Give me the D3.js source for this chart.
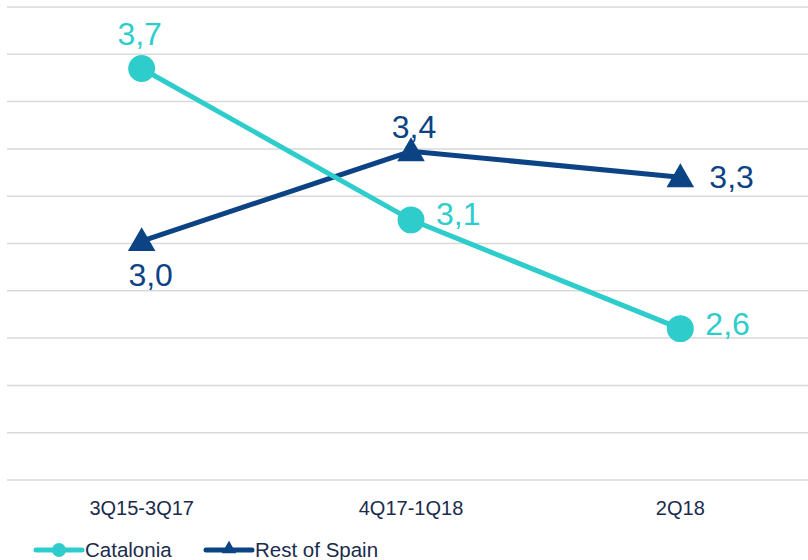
<!DOCTYPE html>
<html>
<head>
<meta charset="utf-8">
<script src="https://cdn.jsdelivr.net/npm/d3@7"></script>
<style>
  html, body { margin: 0; padding: 0; background: #fff; }
  svg { display: block; font-family: "Liberation Sans", Arial, sans-serif; }
</style>
</head>
<body>
<svg id="chart" width="808" height="560"></svg>
<script>
// Periods on the x axis
const periods = ["3Q15-3Q17", "4Q17-1Q18", "2Q18"];
// Series values
const catalonia = [3.74, 3.10, 2.64];
const restOfSpain = [3.01, 3.39, 3.28];
// Horizontal gridline values
const gridValues = [2.0, 2.2, 2.4, 2.6, 2.8, 3.0, 3.2, 3.4, 3.6, 3.8, 4.0];

const TEAL = "#2ECDCB";
const NAVY = "#0B4384";
const TEXT = "#1A2B4C";

const svg = d3.select("#chart");

const x = d3.scaleBand().domain(periods).range([7, 815]);
const y = d3.scaleLinear().domain([2.0, 4.0]).range([480, 7]);
const cx = d => x(d) + x.bandwidth() / 2;
const fmt = v => d3.format(".1f")(v).replace(".", ",");

// Gridlines
svg.append("g")
  .selectAll("line")
  .data(gridValues)
  .join("line")
  .attr("x1", 7).attr("x2", 808)
  .attr("y1", d => y(d)).attr("y2", d => y(d))
  .attr("stroke", "#D9D9D9")
  .attr("stroke-width", 1.5);

// Category axis labels
const xAxis = d3.axisBottom(x).tickSize(0).tickPadding(0);
const gx = svg.append("g").attr("transform", `translate(0,${y(2.0)})`).call(xAxis);
gx.select(".domain").remove();
gx.selectAll("text")
  .attr("dy", null)
  .attr("y", 35)
  .attr("fill", TEXT)
  .attr("font-size", 20)
  .attr("font-family", "Liberation Sans, Arial, sans-serif");

// Label placement per point: side, horizontal and vertical offsets
const series = [
  { name: "Catalonia", values: catalonia, color: TEAL, symbol: d3.symbolCircle, size: 570,
    labels: [
      { side: "middle", dx: -2, dy: -23 },
      { side: "start", dx: 25, dy: 5 },
      { side: "start", dx: 25, dy: 6 }
    ] },
  { name: "Rest of Spain", values: restOfSpain, color: NAVY, symbol: d3.symbolTriangle, size: 330,
    labels: [
      { side: "middle", dx: 9, dy: 45 },
      { side: "middle", dx: 3, dy: -13 },
      { side: "start", dx: 29, dy: 11 }
    ] }
];

const line = d3.line().x((d, i) => cx(periods[i])).y(d => y(d));

// Lines (Rest of Spain drawn first so Catalonia sits on top)
[series[1], series[0]].forEach(s => {
  svg.append("path")
    .datum(s.values)
    .attr("d", line)
    .attr("fill", "none")
    .attr("stroke", s.color)
    .attr("stroke-width", 5);
});

// Markers
[series[1], series[0]].forEach(s => {
  svg.append("g")
    .selectAll("path")
    .data(s.values)
    .join("path")
    .attr("d", d3.symbol().type(s.symbol).size(s.size))
    .attr("transform", (d, i) => `translate(${cx(periods[i])},${y(d) + (s.symbol === d3.symbolTriangle ? 2 : 0)})`)
    .attr("fill", s.color);
});

// Value labels
series.forEach(s => {
  svg.append("g")
    .selectAll("text")
    .data(s.values)
    .join("text")
    .attr("x", (d, i) => cx(periods[i]) + s.labels[i].dx)
    .attr("y", (d, i) => y(d) + s.labels[i].dy)
    .attr("text-anchor", (d, i) => s.labels[i].side)
    .attr("fill", s.color)
    .attr("font-size", 32)
    .text(d => fmt(d));
});

// Legend
const legend = svg.append("g").attr("transform", "translate(0,550)");
const items = [
  { s: series[0], x0: 36 },
  { s: series[1], x0: 206 }
];
items.forEach(({ s, x0 }) => {
  const g = legend.append("g").attr("transform", `translate(${x0},0)`);
  g.append("line")
    .attr("x1", 0).attr("x2", 46)
    .attr("y1", 0).attr("y2", 0)
    .attr("stroke", s.color)
    .attr("stroke-width", 5)
    .attr("stroke-linecap", "round");
  g.append("path")
    .attr("d", d3.symbol().type(s.symbol).size(s.symbol === d3.symbolCircle ? 150 : 90))
    .attr("transform", `translate(23,${s.symbol === d3.symbolTriangle ? -1 : 0})`)
    .attr("fill", s.color);
  g.append("text")
    .attr("x", 49)
    .attr("y", 7)
    .attr("fill", TEXT)
    .attr("font-size", 20.5)
    .text(s.name);
});
</script>
</body>
</html>
